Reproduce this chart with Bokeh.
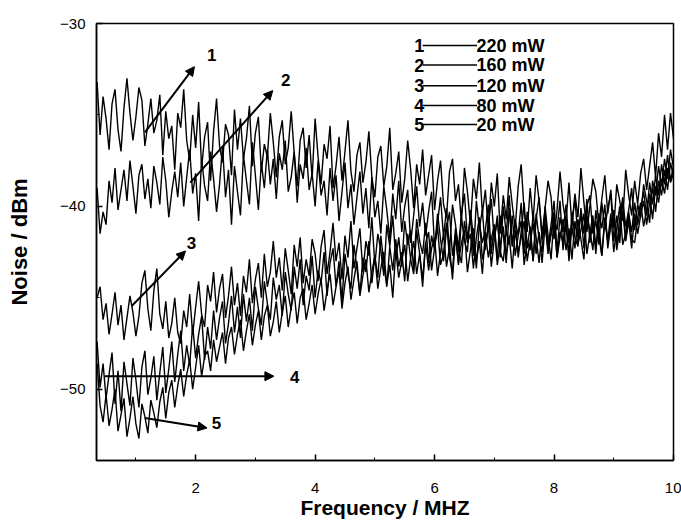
from bokeh.plotting import figure
from bokeh.models import Range1d, FixedTicker, Arrow, NormalHead, Label, ColumnDataSource
from bokeh.embed import file_html
from bokeh.resources import INLINE
from bokeh.core.properties import value

# ---------------- data ----------------
freq_start = 0.35   # MHz
freq_step = 0.05    # MHz

noise_220mW = [
    -33.2, -36.1, -34.0, -35.2, -36.9, -34.4, -33.6, -35.8, -37.0, -34.6,
    -33.0, -34.9, -36.4, -35.1, -33.5, -34.2, -36.7, -35.5, -34.1, -36.0,
    -35.3, -33.9, -37.2, -34.8, -36.3, -35.6, -38.0, -34.9, -35.7, -33.6,
    -36.4, -37.5, -35.0, -36.8, -34.3, -37.9, -36.2, -35.4, -38.6, -35.9,
    -34.1, -36.7, -37.6, -35.5, -36.1, -38.3, -34.7, -36.9, -35.2, -37.4,
    -36.3, -34.5, -37.8, -36.0, -35.1, -38.1, -36.6, -37.3, -34.9, -36.5,
    -38.4, -36.2, -35.3, -37.7, -36.8, -34.8, -37.1, -38.9, -36.4, -35.7,
    -37.9, -36.1, -38.5, -35.2, -37.3, -38.8, -36.6, -37.4, -35.6, -39.0,
    -37.8, -36.2, -38.6, -37.0, -35.3, -38.1, -39.2, -37.2, -36.5, -38.7,
    -37.6, -35.9, -38.4, -39.5, -37.3, -36.7, -38.9, -37.8, -35.7, -39.1,
    -38.2, -37.0, -39.8, -38.5, -36.4, -38.0, -40.1, -37.7, -38.8, -36.9,
    -39.4, -38.3, -37.2, -40.2, -38.6, -37.5, -39.9, -40.6, -38.1, -37.4,
    -39.7, -38.8, -40.9, -37.9, -39.2, -41.0, -38.5, -39.6, -37.6, -40.4,
    -39.1, -41.3, -38.7, -40.0, -38.2, -41.5, -39.4, -40.7, -38.4, -39.9,
    -41.2, -38.9, -37.7, -40.3, -41.4, -39.0, -40.8, -38.3, -39.7, -41.6,
    -40.1, -38.6, -39.5, -41.8, -40.2, -38.1, -39.9, -40.9, -38.7, -41.1,
    -39.3, -40.6, -37.9, -39.8, -41.4, -40.0, -38.5, -39.2, -41.0, -39.6,
    -38.3, -40.4, -39.1, -41.2, -38.8, -39.7, -40.8, -38.0, -39.4, -40.5,
    -38.6, -39.9, -38.2, -37.4, -39.1, -37.8, -36.5, -38.4, -36.0, -37.3,
    -35.0, -36.9, -34.9, -36.3,
]

noise_160mW = [
    -39.0, -41.5, -40.3, -41.0, -38.6, -39.8, -37.9, -40.2, -39.1, -38.0,
    -39.7, -37.5, -38.9, -40.4, -38.3, -37.7, -39.6, -38.5, -40.1, -37.8,
    -38.7, -39.9, -37.3, -38.6, -40.6, -39.2, -38.1, -39.5, -37.6, -40.0,
    -38.4, -36.9, -39.3, -38.2, -40.8, -37.4, -38.9, -39.7, -37.0, -38.5,
    -40.3, -38.8, -36.7, -39.5, -38.0, -41.0, -37.8, -39.2, -40.5, -37.2,
    -38.6, -39.9, -36.5, -38.3, -40.2, -37.6, -39.0, -36.9, -38.8, -37.4,
    -39.6, -37.1, -38.0, -36.4, -39.2, -38.4, -37.0, -39.8, -37.7, -38.5,
    -36.8, -39.1, -38.2, -40.0, -37.5, -39.4, -38.6, -40.5, -37.9, -39.7,
    -38.3, -40.8, -39.2, -37.6, -40.1, -38.8, -41.0, -39.5, -38.1, -40.4,
    -39.0, -41.2, -38.4, -40.6, -39.7, -41.5, -38.9, -40.2, -41.8, -39.3,
    -40.7, -38.6, -41.4, -40.0, -39.1, -42.0, -40.5, -38.9, -41.1, -39.8,
    -41.6, -40.3, -39.2, -42.2, -40.9, -39.5, -41.7, -40.1, -42.5, -39.9,
    -41.0, -42.3, -40.4, -39.3, -41.8, -40.6, -42.7, -39.7, -41.2, -40.2,
    -42.4, -41.1, -39.6, -41.9, -40.5, -42.8, -40.0, -41.5, -39.4, -42.1,
    -40.8, -41.6, -39.8, -42.6, -40.3, -41.3, -43.0, -40.7, -39.5, -41.8,
    -40.4, -42.2, -41.0, -39.7, -42.5, -40.6, -41.4, -39.9, -42.0, -40.9,
    -39.6, -41.7, -40.3, -42.3, -40.0, -39.4, -41.5, -40.8, -42.1, -39.8,
    -41.2, -40.1, -39.3, -41.9, -40.5, -42.0, -39.7, -41.1, -40.2, -39.0,
    -41.3, -39.9, -40.6, -38.8, -39.7, -40.9, -38.6, -39.4, -37.8, -38.9,
    -37.4, -38.5, -36.9, -37.9,
]

noise_120mW = [
    -45.0, -44.4, -46.2, -45.3, -47.0, -45.9, -44.7, -46.5, -45.4, -47.3,
    -46.1, -44.9, -45.8, -47.1, -46.0, -44.2, -43.5, -45.6, -46.8, -44.6,
    -43.4, -45.9, -46.7, -45.2, -47.2, -46.4, -45.0, -46.9, -47.5, -45.7,
    -46.6, -44.8, -47.0, -45.5, -44.1, -45.9, -46.6, -44.3, -45.2, -43.6,
    -45.8, -44.5, -43.7, -46.1, -44.9, -43.3, -45.4, -44.2, -46.0, -43.8,
    -44.7, -42.9, -45.3, -44.0, -43.1, -45.0, -42.6, -44.4, -43.6, -41.9,
    -43.9, -42.8, -44.6, -42.3, -43.5, -44.8, -42.1, -43.3, -41.7, -44.2,
    -42.9, -43.8, -41.8, -42.6, -44.1, -42.2, -41.3, -43.7, -42.5, -40.9,
    -43.0, -42.0, -44.0, -41.6, -42.8, -40.8, -43.4, -42.3, -41.2, -43.6,
    -41.9, -42.7, -40.6, -43.2, -41.5, -42.4, -43.8, -41.0, -42.2, -40.5,
    -42.9, -41.7, -43.3, -40.8, -42.1, -41.3, -43.5, -40.7, -41.9, -42.6,
    -40.9, -43.1, -41.6, -42.4, -40.4, -41.8, -43.0, -41.2, -40.3, -42.7,
    -41.5, -43.2, -40.6, -41.9, -42.5, -40.2, -41.7, -43.4, -40.9, -42.0,
    -41.3, -39.9, -42.6, -41.0, -42.9, -40.5, -41.6, -43.1, -40.1, -42.2,
    -40.7, -42.8, -41.4, -39.8, -42.3, -41.1, -43.0, -40.4, -41.8, -42.5,
    -40.0, -41.6, -42.9, -40.6, -41.3, -39.7, -42.4, -41.0, -42.7, -40.3,
    -41.7, -42.2, -40.1, -41.5, -39.6, -42.0, -40.8, -42.6, -40.4, -41.2,
    -39.9, -42.3, -41.0, -40.2, -42.1, -40.7, -39.5, -41.8, -40.5, -41.4,
    -39.8, -41.0, -40.1, -39.2, -40.5, -38.7, -39.9, -38.3, -39.4, -37.7,
    -38.8, -37.2, -38.6, -37.8,
]

noise_80mW = [
    -47.4, -49.9, -48.6, -50.5, -49.2, -48.0, -50.8, -49.0, -51.2, -48.5,
    -49.7, -50.9, -48.3, -49.5, -51.0, -48.8, -47.9, -50.3, -49.4, -48.2,
    -50.6, -49.1, -47.7, -50.2, -48.9, -47.4, -49.6, -48.1, -46.8, -49.0,
    -47.6, -48.7, -46.5, -48.3, -47.0, -46.0, -48.4, -46.6, -47.8, -45.7,
    -47.3, -46.1, -45.2, -47.5, -46.4, -44.9, -46.9, -45.5, -47.2, -44.8,
    -46.3, -45.0, -46.8, -44.4, -45.6, -46.5, -44.1, -45.3, -46.2, -43.9,
    -45.1, -44.3, -46.0, -43.6, -44.8, -45.7, -43.3, -44.5, -42.9, -45.4,
    -43.8, -44.6, -42.7, -45.0, -43.5, -44.2, -42.5, -44.9, -43.1, -42.3,
    -44.4, -43.0, -45.2, -42.6, -43.7, -44.5, -42.1, -43.4, -44.8, -42.8,
    -43.6, -41.9, -44.2, -42.7, -43.9, -41.6, -43.1, -44.4, -42.2, -43.5,
    -41.8, -43.3, -42.5, -44.1, -41.5, -42.9, -43.7, -41.3, -42.6, -44.0,
    -42.0, -41.4, -43.5, -42.3, -41.1, -43.2, -42.6, -40.9, -42.8, -43.6,
    -41.2, -42.4, -43.1, -40.8, -42.0, -41.5, -43.4, -41.7, -40.6, -42.9,
    -42.2, -41.0, -43.3, -41.8, -40.7, -42.5, -43.0, -41.3, -42.1, -40.5,
    -42.7, -41.6, -40.8, -43.2, -41.9, -42.4, -40.4, -41.7, -43.1, -41.2,
    -40.9, -42.6, -41.5, -40.3, -42.8, -41.4, -42.0, -40.6, -43.0, -41.1,
    -42.3, -40.7, -41.8, -42.9, -40.5, -41.3, -42.4, -40.2, -41.6, -42.7,
    -40.8, -41.9, -40.4, -42.5, -41.2, -40.0, -42.1, -41.5, -40.3, -41.8,
    -42.0, -40.6, -39.8, -41.1, -40.2, -39.3, -40.7, -38.9, -39.8, -38.5,
    -39.3, -37.9, -38.7, -38.2,
]

noise_20mW = [
    -48.6, -50.9, -51.8, -50.3, -52.0, -51.1, -50.0, -52.3, -51.4, -50.5,
    -52.6, -51.6, -50.4, -51.9, -52.7, -50.8, -51.5, -52.4, -50.6, -51.3,
    -52.1, -50.7, -49.9, -51.6, -50.2, -49.5, -51.0, -49.8, -48.9, -50.4,
    -49.2, -48.4, -50.0, -48.8, -47.6, -49.3, -48.2, -47.9, -49.0, -47.3,
    -48.5, -47.7, -46.9, -48.6, -47.2, -46.6, -48.1, -47.0, -46.2, -47.9,
    -46.8, -45.9, -47.6, -46.5, -45.7, -47.3, -46.0, -45.4, -47.1, -46.3,
    -45.2, -46.9, -45.8, -44.9, -46.6, -45.5, -44.7, -46.4, -45.0, -44.5,
    -46.2, -45.3, -44.3, -45.9, -44.8, -44.0, -45.7, -44.6, -43.7, -45.4,
    -44.4, -43.5, -45.6, -44.2, -43.3, -45.1, -44.0, -43.0, -44.9, -43.8,
    -42.9, -44.7, -43.6, -42.7, -44.5, -43.4, -42.5, -44.3, -43.2, -45.0,
    -42.4, -43.9, -43.0, -42.1, -44.1, -42.8, -41.9, -43.7, -42.6, -44.4,
    -42.0, -43.5, -42.3, -41.7, -43.8, -42.5, -41.5, -43.3, -42.2, -44.0,
    -41.6, -43.1, -42.0, -41.3, -43.6, -42.4, -41.2, -43.0, -41.9, -43.7,
    -41.4, -42.8, -41.8, -41.0, -43.2, -42.1, -41.1, -42.7, -41.6, -43.4,
    -41.3, -42.5, -41.7, -40.8, -43.0, -41.9, -40.9, -42.6, -41.4, -43.1,
    -41.0, -42.3, -41.5, -40.6, -42.8, -41.7, -40.7, -42.4, -41.2, -42.9,
    -40.8, -42.1, -41.3, -40.4, -42.6, -41.5, -40.5, -42.2, -41.0, -42.7,
    -40.6, -41.9, -41.1, -40.2, -42.4, -41.2, -40.3, -41.9, -40.8, -42.3,
    -40.4, -41.5, -40.5, -39.7, -41.0, -39.8, -39.0, -40.3, -38.6, -39.4,
    -38.0, -39.1, -37.6, -38.4,
]

series_numbers = ["1", "2", "3", "4", "5"]
series_powers = ["220 mW", "160 mW", "120 mW", "80  mW", "20  mW"]
x_ticks = [2, 4, 6, 8, 10]
y_ticks = [-50, -40, -30]

# ---------------- figure ----------------
FONT = "Liberation Sans"

p = figure(width=681, height=522, output_backend="svg", toolbar_location=None,
           x_range=Range1d(0.34, 10.0), y_range=Range1d(-53.9, -30.0),
           min_border_left=96, min_border_top=23, min_border_right=8,
           min_border_bottom=62)
p.background_fill_color = "white"
p.border_fill_color = "white"
p.outline_line_color = "black"
p.outline_line_width = 1.5
p.grid.visible = False

freq = [round(freq_start + freq_step * i, 2) for i in range(len(noise_220mW))]
for ys in (noise_20mW, noise_80mW, noise_120mW, noise_160mW, noise_220mW):
    p.line(freq, ys, line_color="black", line_width=1.4)

# axes
p.xaxis.ticker = FixedTicker(ticks=x_ticks, minor_ticks=[1, 3, 5, 7, 9])
p.yaxis.ticker = FixedTicker(ticks=y_ticks, minor_ticks=[-45, -35])
for ax in (p.xaxis[0], p.yaxis[0]):
    ax.axis_line_color = "black"
    ax.axis_line_width = 1.5
    ax.major_tick_in = 6
    ax.major_tick_out = 0
    ax.minor_tick_in = 3
    ax.minor_tick_out = 0
    ax.major_tick_line_width = 1.5
    ax.major_label_text_font = FONT
    ax.major_label_text_font_size = "15px"
    ax.major_label_text_color = "black"
    ax.axis_label_text_font = FONT
    ax.axis_label_text_font_style = "bold"
    ax.axis_label_text_color = "black"

p.xaxis.axis_label = "Frequency / MHZ"
p.xaxis.axis_label_text_font_size = "21px"
p.xaxis.major_label_standoff = 22
p.xaxis.axis_label_standoff = 0

p.yaxis.axis_label = "Noise / dBm"
p.yaxis.axis_label_text_font_size = "22px"
p.yaxis.major_label_standoff = 11
p.yaxis.axis_label_standoff = 25

# arrows pointing at the curves
arrow_specs = [
    # (x_start, y_start, x_end, y_end, label, label_x, label_y)
    (1.15, -35.96, 1.98, -32.36, "1", 2.27, -31.75),
    (1.91, -38.70, 3.29, -33.67, "2", 3.51, -33.07),
    (0.93, -45.45, 1.83, -42.44, "3", 1.93, -42.00),
    (0.48, -49.29, 3.31, -49.29, "4", 3.66, -49.34),
    (1.15, -51.57, 2.19, -52.12, "5", 2.35, -51.86),
]
for xs, ys_, xe, ye, lab, lx, ly in arrow_specs:
    p.add_layout(Arrow(x_start=xs, y_start=ys_, x_end=xe, y_end=ye,
                       line_color="black", line_width=2,
                       end=NormalHead(size=9, fill_color="black", line_color="black")))
    p.add_layout(Label(x=lx, y=ly, text=lab, text_font=FONT, text_font_size="17px",
                       text_font_style="bold", text_align="center",
                       text_baseline="middle", text_color="black"))

# legend-like annotation block
leg_y = [-31.21, -32.27, -33.40, -34.49, -35.53]
leg_src = ColumnDataSource(dict(
    y=leg_y, num=series_numbers, power=series_powers,
    xn=[5.66] * 5, x0=[5.80] * 5, x1=[6.71] * 5, xp=[6.70] * 5,
))
p.text(x="xn", y="y", text="num", source=leg_src, text_font=value(FONT),
       text_font_size="18px", text_font_style="bold", text_baseline="middle",
       text_align="left", text_color="black")
p.segment(x0="x0", y0="y", x1="x1", y1="y", source=leg_src,
          line_color="black", line_width=1.5)
p.text(x="xp", y="y", text="power", source=leg_src, text_font=value(FONT),
       text_font_size="18px", text_font_style="bold", text_baseline="middle",
       text_align="left", text_color="black")

open("out.html", "w").write(file_html(p, INLINE))
